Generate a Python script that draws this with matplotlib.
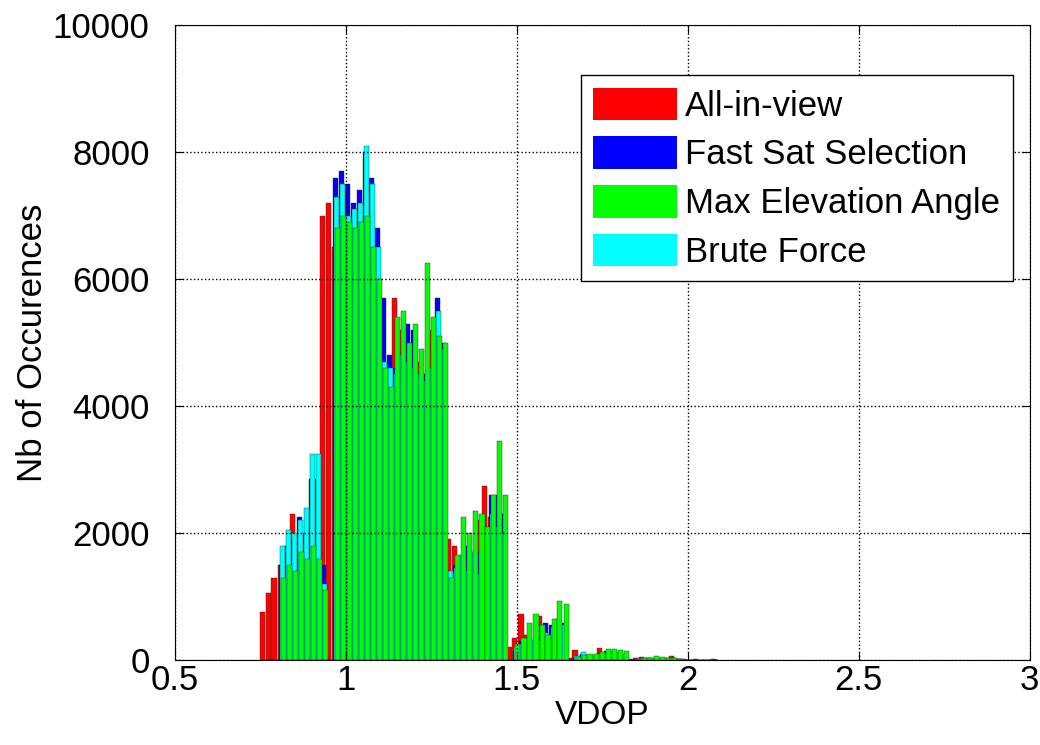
import numpy as np
import matplotlib
matplotlib.use('Agg')
import matplotlib.pyplot as plt

plt.rcParams['font.family'] = ['Liberation Sans', 'DejaVu Sans']

# bin centres (VDOP)
vdop = [0.760, 0.778, 0.795, 0.813, 0.830, 0.848, 0.866, 0.883, 0.901, 0.918,
        0.936, 0.954, 0.971, 0.989, 1.006, 1.024, 1.042, 1.059, 1.077, 1.094,
        1.112, 1.130, 1.147, 1.165, 1.182, 1.200, 1.218, 1.235, 1.253, 1.270,
        1.288, 1.306, 1.323, 1.341, 1.358, 1.376, 1.394, 1.411, 1.429, 1.446,
        1.464, 1.482, 1.499, 1.517, 1.534, 1.552, 1.570, 1.587, 1.605, 1.622,
        1.640, 1.658, 1.675, 1.693, 1.710, 1.728, 1.746, 1.763, 1.781, 1.798,
        1.816, 1.834, 1.851, 1.869, 1.886, 1.904, 1.922, 1.939, 1.957, 1.974,
        1.992, 2.010, 2.027, 2.045, 2.062, 2.080]

all_in_view = [750, 1050, 1300, 1500, 1800, 2300, 1900, 1700, 1200, 900,
               7000, 7200, 6500, 6400, 6300, 6300, 6400, 6500, 6300, 6000,
               4900, 4400, 5700, 5200, 5000, 4800, 4700, 4500, 5200, 4900,
               4800, 1900, 1800, 1600, 1400, 1500, 2200, 2750, 2250, 2000,
               300, 200, 350, 720, 400, 300, 700, 500, 400, 200,
               0, 30, 160, 60, 50, 60, 190, 100, 80, 30,
               0, 20, 40, 50, 30, 20, 40, 30, 60, 20,
               10, 0, 10, 0, 0, 20]
fast_sat = [0, 0, 0, 1500, 1700, 1900, 2250, 2000, 2850, 2850,
            1500, 0, 7600, 7700, 7500, 7200, 7400, 8000, 7600, 6800,
            5700, 4800, 4600, 4000, 5300, 5200, 4300, 4500, 4000, 5700,
            5000, 1300, 1500, 1100, 1800, 1500, 1700, 2100, 2600, 2600,
            2300, 0, 150, 300, 330, 250, 400, 580, 560, 650,
            580, 0, 40, 100, 70, 60, 90, 150, 120, 100,
            0, 0, 15, 20, 30, 25, 40, 20, 30, 15,
            0, 0, 0, 0, 0, 0]
max_elev = [0, 0, 0, 1300, 1500, 1400, 1700, 1600, 1800, 1600,
            1100, 0, 6800, 7000, 6900, 6800, 6900, 7000, 6500, 6000,
            4600, 4300, 5400, 5500, 5000, 5300, 4900, 6250, 5400, 5100,
            5000, 1300, 1650, 2250, 2000, 2350, 2300, 2100, 2600, 3450,
            2600, 0, 250, 350, 580, 720, 550, 400, 650, 930,
            880, 0, 50, 80, 90, 100, 130, 180, 170, 160,
            140, 0, 15, 30, 40, 60, 50, 30, 40, 20,
            0, 0, 0, 0, 0, 0]
brute_force = [0, 0, 0, 1800, 2050, 2000, 2200, 2400, 3250, 3250,
               1200, 0, 7300, 7500, 7000, 7100, 7200, 8100, 7500, 6500,
               4700, 4600, 4500, 4800, 4700, 4600, 4500, 4400, 4600, 5500,
               4900, 1400, 1450, 1650, 1400, 1700, 1350, 1800, 2300, 2100,
               2000, 0, 200, 250, 280, 320, 300, 430, 520, 600,
               550, 0, 60, 130, 80, 70, 100, 110, 150, 120,
               100, 0, 20, 25, 35, 40, 30, 25, 30, 10,
               0, 0, 0, 0, 0, 0]

labels = ['All-in-view', 'Fast Sat Selection', 'Max Elevation Angle', 'Brute Force']

fig = plt.figure(figsize=(10.4, 7.45), dpi=100)
ax = fig.add_axes([0.168, 0.114, 0.822, 0.852])

x = np.array(vdop)
w = 0.015
# drawn in the same stacking order as the original overlay
series = [(all_in_view, '#ff0000', -0.0045, labels[0]),
          (fast_sat, '#0000ff', -0.0015, labels[1]),
          (brute_force, '#00ffff', 0.0015, labels[3]),
          (max_elev, '#00ff00', 0.0045, labels[2])]
handles = {}
for vals, col, off, lab in series:
    b = ax.bar(x + off, vals, width=w, color=col, edgecolor='#303030',
               linewidth=0.3, label=lab)
    handles[lab] = b

ax.set_xlim(0.5, 3)
ax.set_ylim(0, 10000)
ax.set_xticks([0.5, 1, 1.5, 2, 2.5, 3])
ax.set_xticklabels(['0.5', '1', '1.5', '2', '2.5', '3'])
ax.set_yticks(range(0, 10001, 2000))
ax.tick_params(direction='in', top=True, right=True, labelsize=25, length=6)
ax.tick_params(axis='x', pad=3)
ax.tick_params(axis='y', pad=18)
ax.grid(True, linestyle=':', color='black', linewidth=1.0)
ax.set_axisbelow(False)
ax.set_xlabel('VDOP', fontsize=24, labelpad=2)
ax.set_ylabel('Nb of Occurences', fontsize=25, labelpad=3)

leg = ax.legend([handles[l] for l in labels], labels, loc='upper right',
                bbox_to_anchor=(0.98, 0.921), fontsize=25, handlelength=2.4,
                handleheight=1.05, labelspacing=0.4, fancybox=False,
                edgecolor='black', framealpha=1, borderpad=0.35, handletextpad=0.25,
                borderaxespad=0)
leg.get_frame().set_linewidth(1.0)
for h in leg.legend_handles:
    h.set_edgecolor('none')

fig.savefig('out.png', dpi=100)
